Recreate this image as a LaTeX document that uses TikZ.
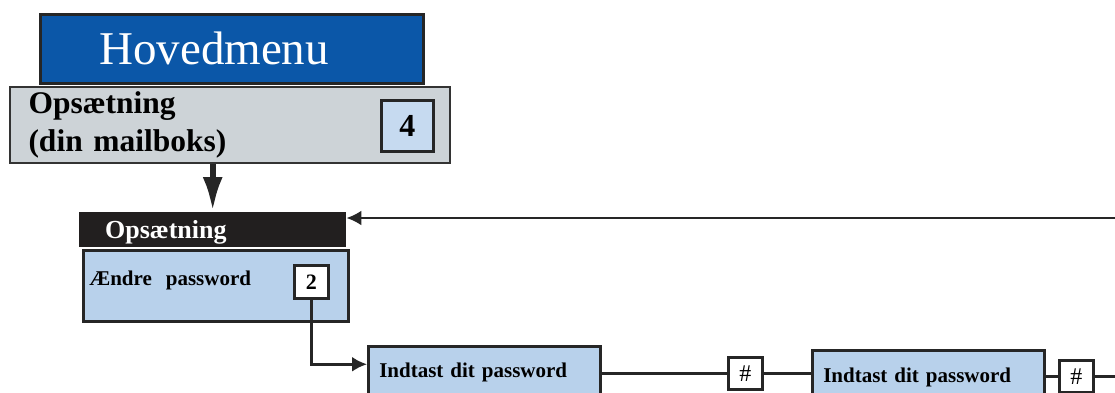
\documentclass[tikz,border=0pt]{standalone}
\usepackage{fontspec}
\setmainfont{Liberation Serif}
\usetikzlibrary{shapes,arrows.meta}
\definecolor{menublue}{HTML}{0B57A8}
\definecolor{setupgray}{HTML}{CDD3D7}
\definecolor{boxblue}{HTML}{B8D1EB}
\definecolor{keyblue}{HTML}{C6DAF0}
\definecolor{barblack}{HTML}{221F1F}
\tikzstyle{menubox} = [rectangle, draw=black!85, line width=2.5pt, fill=menublue, text=white, anchor=north west, inner xsep=59pt, text width=265pt, minimum height=69pt, font=\fontsize{47}{50}\selectfont]
\tikzstyle{setupbox} = [rectangle, draw=black!80, line width=2pt, fill=setupgray, anchor=north west, text width=403pt, inner xsep=18.5pt, minimum height=76pt, font=\fontsize{31.5}{38}\selectfont\bfseries]
\tikzstyle{bar} = [rectangle, fill=barblack, text=white, anchor=north west, inner xsep=26pt, inner ysep=0pt, text width=215pt, text height=26pt, text depth=9pt, font=\fontsize{26}{30}\selectfont\bfseries]
\tikzstyle{block} = [rectangle, draw=black!85, line width=2.5pt, fill=boxblue, anchor=north west, inner ysep=0pt, font=\fontsize{21}{25}\selectfont\bfseries]
\tikzstyle{key} = [rectangle, draw=black!85, line width=2.5pt, fill=white, anchor=north west, inner sep=0pt]
\tikzstyle{line} = [draw=black!85, line width=2.5pt, -{Latex[length=15pt,width=15pt]}]
\tikzstyle{bigline} = [draw=black!85, line width=6pt, -{Latex[length=35pt,width=20pt]}]
\tikzstyle{link} = [draw=black!85, line width=2.5pt]

\begin{document}
\begin{tikzpicture}[x=1pt, y=-1pt]
\useasboundingbox (0,0) rectangle (1115,392);
\clip (0,0) rectangle (1115,392);

% main menu and the setup entry
\node [menubox, align=left] (menu) at (39,13) {Hovedmenu};
\node [setupbox, align=left] (setup) at (9,86) {Opsætning\\(din mailboks)};
\node [key, fill=keyblue, minimum width=52pt, minimum height=51pt, font=\fontsize{32}{36}\selectfont\bfseries] (key4) at (380,99) {4};

% setup menu
\node [bar, align=left] (header) at (79,212) {Opsætning};
\node [block, align=left, inner xsep=6pt, text width=253pt, text height=35pt, text depth=36pt] (change) at (82,249) {Ændre~~password};
\node [key, minimum width=34pt, minimum height=33pt, font=\fontsize{22}{26}\selectfont\bfseries] (key2) at (293,264) {2};

% password steps
\node [block, align=left, inner xsep=11pt, text width=210pt, text height=31pt, text depth=45pt] (enter1) at (367,345) {Indtast dit password};
\node [key, minimum width=34pt, minimum height=32pt, font=\fontsize{24}{28}\selectfont] (hash1) at (727,356) {\#};
\node [block, align=left, inner xsep=11pt, text width=210pt, text height=32pt, text depth=45pt] (enter2) at (811,349) {Indtast dit password};
\node [key, minimum width=34pt, minimum height=32pt, font=\fontsize{24}{28}\selectfont] (hash2) at (1058,359) {\#};

\coordinate (out) at (1115,375);
\coordinate (back) at (1115,218);

% now the connectors
\path [bigline] (header.north |- setup.south) -- (header.north);
\path [line] (key2.south) |- ([yshift=13pt]enter1.base west);
\path [link] (enter1.east |- hash1.west) -- (hash1.west);
\path [link] (hash1.east) -- (enter2.west |- hash1.east);
\path [link] (enter2.east |- hash2.west) -- (hash2.west);
\path [link] (hash2.east) -- (hash2.east -| out);
\path [line] (back) -- (header.north east |- back);

\end{tikzpicture}
\end{document}
